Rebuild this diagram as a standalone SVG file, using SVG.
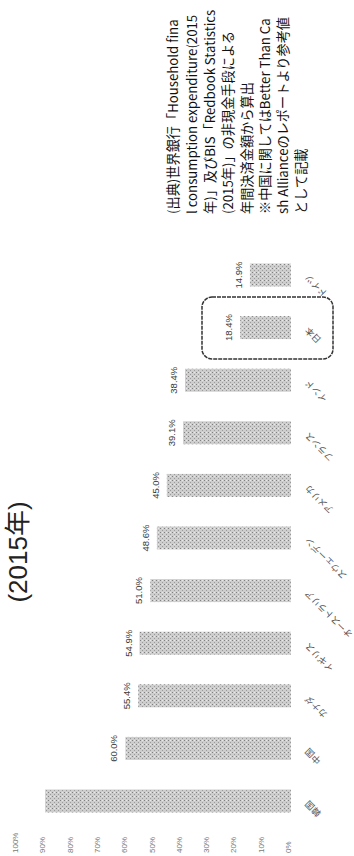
<svg xmlns="http://www.w3.org/2000/svg" width="354" height="856" viewBox="0 0 354 856">
<defs>
<pattern id="stip" width="4" height="4" patternUnits="userSpaceOnUse">
<rect width="4" height="4" fill="#cdcdcd"/>
<rect x="0" y="0" width="1" height="1" fill="#808080"/>
<rect x="2" y="2" width="1" height="1" fill="#9a9a9a"/>
<rect x="2" y="0" width="1" height="1" fill="#e8e8e8"/>
</pattern>
</defs>
<style>
.bar{fill:url(#stip);}
.val{font-family:"Liberation Sans",Arial,sans-serif;font-size:9.5px;fill:#3a3a3a;text-anchor:middle;}
.cat{font-family:"Noto Sans CJK JP","Noto Sans",sans-serif;font-size:9px;fill:#555;text-anchor:end;}
.tick{font-family:"Liberation Sans",Arial,sans-serif;font-size:8px;fill:#777;text-anchor:start;}
.src{font-family:"Noto Sans CJK JP","Noto Sans",sans-serif;font-size:13.2px;fill:#111;text-anchor:start;}
.title{font-family:"Liberation Sans","Noto Sans CJK JP",sans-serif;font-size:26px;fill:#222;text-anchor:middle;}
</style>
<rect width="354" height="856" fill="#ffffff"/>

<g id="title">
<text class="title" transform="translate(27,552) rotate(-90)">(2015年)</text>
</g>

<g id="source">
<text class="src" transform="translate(178,214) rotate(-90)">(出典)世界銀行「Household fina</text>
<text class="src" transform="translate(196.5,214) rotate(-90)">l consumption expenditure(2015</text>
<text class="src" transform="translate(215,214) rotate(-90)">年)」及びBIS「Redbook Statistics</text>
<text class="src" transform="translate(233,214) rotate(-90)">(2015年)」の非現金手段による</text>
<text class="src" transform="translate(251.5,214) rotate(-90)">年間決済金額から算出</text>
<text class="src" transform="translate(269.5,214) rotate(-90)">※中国に関してはBetter Than Ca</text>
<text class="src" transform="translate(288,214) rotate(-90)">sh Allianceのレポートより参考値</text>
<text class="src" transform="translate(306,214) rotate(-90)">として記載</text>
</g>

<g id="axis">
<text class="tick" transform="translate(18,853) rotate(-90)">100%</text>
<text class="tick" transform="translate(45.3,853) rotate(-90)">90%</text>
<text class="tick" transform="translate(72.6,853) rotate(-90)">80%</text>
<text class="tick" transform="translate(99.9,853) rotate(-90)">70%</text>
<text class="tick" transform="translate(127.2,853) rotate(-90)">60%</text>
<text class="tick" transform="translate(154.5,853) rotate(-90)">50%</text>
<text class="tick" transform="translate(181.8,853) rotate(-90)">40%</text>
<text class="tick" transform="translate(209.1,853) rotate(-90)">30%</text>
<text class="tick" transform="translate(236.4,853) rotate(-90)">20%</text>
<text class="tick" transform="translate(263.7,853) rotate(-90)">10%</text>
<text class="tick" transform="translate(291,853) rotate(-90)">0%</text>
</g>

<g id="bar-korea">
<rect class="bar" x="45.1" y="789.5" width="245.9" height="23"/>
<text class="cat" transform="translate(309,800) rotate(-135)">韓国</text>
</g>
<g id="bar-china">
<rect class="bar" x="125.4" y="736.9" width="165.6" height="23"/>
<text class="val" transform="translate(117.4,748.4) rotate(-90)">60.0%</text>
<text class="cat" transform="translate(309,747.4) rotate(-135)">中国</text>
</g>
<g id="bar-canada">
<rect class="bar" x="138.1" y="684.3" width="152.9" height="23"/>
<text class="val" transform="translate(130.1,695.8) rotate(-90)">55.4%</text>
<text class="cat" transform="translate(309,694.8) rotate(-135)">カナダ</text>
</g>
<g id="bar-uk">
<rect class="bar" x="139.5" y="631.7" width="151.5" height="23"/>
<text class="val" transform="translate(131.5,643.2) rotate(-90)">54.9%</text>
<text class="cat" transform="translate(309,642.2) rotate(-135)">イギリス</text>
</g>
<g id="bar-australia">
<rect class="bar" x="150.2" y="579.1" width="140.8" height="23"/>
<text class="val" transform="translate(142.2,590.6) rotate(-90)">51.0%</text>
<text class="cat" transform="translate(309,589.6) rotate(-135)">オーストラリア</text>
</g>
<g id="bar-sweden">
<rect class="bar" x="156.9" y="526.5" width="134.1" height="23"/>
<text class="val" transform="translate(148.9,538) rotate(-90)">48.6%</text>
<text class="cat" transform="translate(309,537) rotate(-135)">スウェーデン</text>
</g>
<g id="bar-usa">
<rect class="bar" x="166.8" y="473.9" width="124.2" height="23"/>
<text class="val" transform="translate(158.8,485.4) rotate(-90)">45.0%</text>
<text class="cat" transform="translate(309,484.4) rotate(-135)">アメリカ</text>
</g>
<g id="bar-france">
<rect class="bar" x="183.1" y="421.3" width="107.9" height="23"/>
<text class="val" transform="translate(175.1,432.8) rotate(-90)">39.1%</text>
<text class="cat" transform="translate(309,431.8) rotate(-135)">フランス</text>
</g>
<g id="bar-india">
<rect class="bar" x="185" y="368.7" width="106" height="23"/>
<text class="val" transform="translate(177,380.2) rotate(-90)">38.4%</text>
<text class="cat" transform="translate(309,379.2) rotate(-135)">インド</text>
</g>
<g id="bar-japan">
<rect x="202" y="297" width="131" height="62" rx="10" ry="10" fill="none" stroke="#333" stroke-width="1.5" stroke-dasharray="4 1"/>
<rect class="bar" x="240.2" y="316.1" width="50.8" height="23"/>
<text class="val" transform="translate(232.2,327.6) rotate(-90)">18.4%</text>
<text class="cat" transform="translate(309,326.6) rotate(-135)">日本</text>
</g>
<g id="bar-germany">
<rect class="bar" x="249.9" y="263.5" width="41.1" height="23"/>
<text class="val" transform="translate(241.9,275) rotate(-90)">14.9%</text>
<text class="cat" transform="translate(309,274) rotate(-135)">ドイツ</text>
</g>
</svg>
